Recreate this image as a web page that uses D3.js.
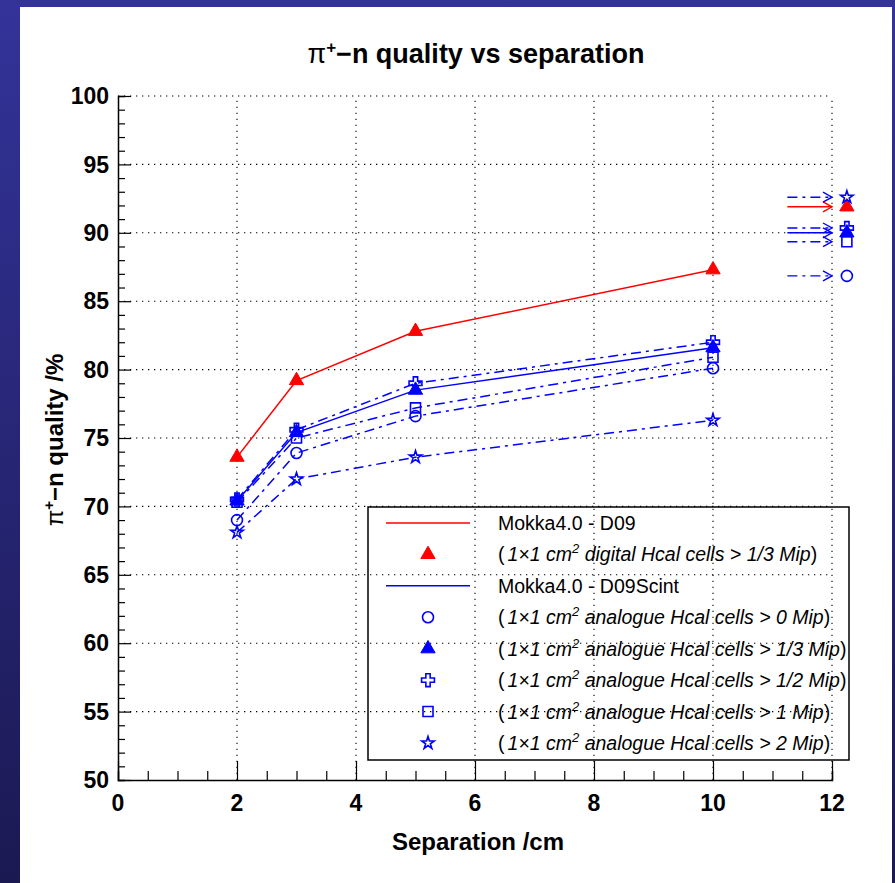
<!DOCTYPE html>
<html>
<head>
<meta charset="utf-8">
<script src="https://cdn.jsdelivr.net/npm/d3@7"></script>
<style>
  body { margin: 0; padding: 0; overflow: hidden; }
  text { font-family: "Liberation Sans", Arial, sans-serif; }
</style>
</head>
<body>
<script>
// separations in cm and quality in %
const separation = [2, 3, 5, 10];
const digital13 = [73.6, 79.2, 82.8, 87.3];
const analogue0 = [69.0, 73.9, 76.6, 80.1];
const analogue13 = [70.4, 75.4, 78.5, 81.6];
const analogue12 = [70.5, 75.6, 79.0, 82.0];
const analogue1 = [70.3, 75.0, 77.2, 80.9];
const analogue2 = [68.1, 72.0, 73.6, 76.3];
// values at "infinite" separation, drawn off the right edge
const limitValues = [91.9, 86.85, 90.0, 90.35, 89.35, 92.6];

const xTicks = [0, 2, 4, 6, 8, 10, 12];
const yTicks = [50, 55, 60, 65, 70, 75, 80, 85, 90, 95, 100];
const thresholds = ["1/3", "0", "1/3", "1/2", "1", "2"];

document.addEventListener("DOMContentLoaded", function() {
    const width = 895;
    const height = 883;

    const svg = d3.select("body").append("svg")
        .attr("width", width)
        .attr("height", height);

    const defs = svg.append("defs");
    const grad = defs.append("linearGradient")
        .attr("id", "frame-bg")
        .attr("x1", 0).attr("y1", 0).attr("x2", 0).attr("y2", 1);
    grad.append("stop").attr("offset", "0%").attr("stop-color", "#33339a");
    grad.append("stop").attr("offset", "100%").attr("stop-color", "#1b1952");

    svg.append("rect").attr("width", width).attr("height", height).attr("fill", "url(#frame-bg)");
    svg.append("rect").attr("x", 20).attr("y", 7).attr("width", 872).attr("height", 876).attr("fill", "#fff");

    const x = d3.scaleLinear().domain([0, 12]).range([118, 832]);
    const y = d3.scaleLinear().domain([50, 100]).range([780, 96]);

    // dotted grid
    const grid = svg.append("g").attr("stroke", "#000").attr("stroke-width", 1.1).attr("stroke-dasharray", "1.3,4.7");
    grid.selectAll(".gx").data(xTicks.filter(d => d > 0)).join("line")
        .attr("x1", d => x(d)).attr("x2", d => x(d))
        .attr("y1", y(50)).attr("y2", y(100));
    grid.selectAll(".gy").data(yTicks.filter(d => d > 50)).join("line")
        .attr("x1", x(0)).attr("x2", x(12))
        .attr("y1", d => y(d)).attr("y2", d => y(d));

    // axes with ticks pointing inwards
    const xAxis = svg.append("g").attr("transform", `translate(0,${y(50)})`)
        .call(d3.axisBottom(x).tickValues(d3.range(0, 12.01, 0.5)).tickSize(-9).tickFormat(""));
    xAxis.selectAll(".tick line").filter(d => d % 2 === 0).attr("y2", -19);
    xAxis.select(".domain").attr("stroke-width", 1.5);
    xAxis.selectAll(".tick line").attr("stroke-width", 1.2);

    const yAxis = svg.append("g").attr("transform", `translate(${x(0)},0)`)
        .call(d3.axisLeft(y).tickValues(d3.range(50, 100.01, 1)).tickSize(-7).tickFormat(""));
    yAxis.selectAll(".tick line").filter(d => d % 5 === 0).attr("x2", 13);
    yAxis.select(".domain").attr("stroke-width", 1.5);
    yAxis.selectAll(".tick line").attr("stroke-width", 1.2);

    svg.append("g").selectAll("text").data(xTicks).join("text")
        .attr("x", d => x(d)).attr("y", 811)
        .attr("text-anchor", "middle")
        .attr("font-size", 23).attr("font-weight", "bold")
        .text(d => d);

    svg.append("g").selectAll("text").data(yTicks).join("text")
        .attr("x", 109).attr("y", d => y(d)).attr("dy", "0.36em")
        .attr("text-anchor", "end")
        .attr("font-size", 23).attr("font-weight", "bold")
        .text(d => d);

    // titles
    const title = svg.append("text").attr("x", 476).attr("y", 63)
        .attr("text-anchor", "middle").attr("font-size", 27).attr("font-weight", "bold");
    title.append("tspan").attr("font-weight", "normal").text("π");
    title.append("tspan").attr("font-size", 17).attr("dy", -10).text("+");
    title.append("tspan").attr("dy", 10).text("−n quality vs separation");

    svg.append("text").attr("x", 478).attr("y", 850)
        .attr("text-anchor", "middle").attr("font-size", 24).attr("font-weight", "bold")
        .text("Separation /cm");

    const ytitle = svg.append("text")
        .attr("transform", "translate(63,440) rotate(-90)")
        .attr("text-anchor", "middle").attr("font-size", 24).attr("font-weight", "bold");
    ytitle.append("tspan").attr("font-weight", "normal").text("π");
    ytitle.append("tspan").attr("font-size", 15).attr("dy", -9).text("+");
    ytitle.append("tspan").attr("dy", 9).text("−n quality /%");

    const red = "#ff0000";
    const blue = "#0000ff";
    const dashDot = "10,5,3,5";

    const series = [
        {values: digital13, color: red, dash: null, marker: "triangle"},
        {values: analogue0, color: blue, dash: dashDot, marker: "circle"},
        {values: analogue13, color: blue, dash: null, marker: "triangle"},
        {values: analogue12, color: blue, dash: dashDot, marker: "cross"},
        {values: analogue1, color: blue, dash: dashDot, marker: "square"},
        {values: analogue2, color: blue, dash: dashDot, marker: "star"}
    ];

    const symbolFor = {
        triangle: d3.symbol(d3.symbolTriangle, 88),
        circle: d3.symbol(d3.symbolCircle, 95),
        cross: d3.symbol(d3.symbolCross, 92),
        square: d3.symbol(d3.symbolSquare, 100),
        star: d3.symbol(d3.symbolStar, 48)
    };

    const drawMarker = (g, s, cx, cy) => {
        const filled = s.marker === "triangle";
        g.append("path")
            .attr("d", symbolFor[s.marker]())
            .attr("transform", `translate(${cx},${cy})`)
            .attr("fill", filled ? s.color : "none")
            .attr("stroke", s.color)
            .attr("stroke-width", filled ? 1 : 1.6);
    };

    const line = d3.line().x(d => x(d[0])).y(d => y(d[1]));

    series.forEach(s => {
        const pts = separation.map((sep, i) => [sep, s.values[i]]);
        svg.append("path")
            .attr("d", line(pts))
            .attr("fill", "none")
            .attr("stroke", s.color)
            .attr("stroke-width", 1.5)
            .attr("stroke-dasharray", s.dash);
    });

    // arrows to limit values
    series.forEach((s, i) => {
        const v = limitValues[i];
        const g = svg.append("g").attr("stroke", s.color).attr("stroke-width", 1.4).attr("fill", "none");
        g.append("line")
            .attr("x1", x(11.25)).attr("x2", x(12))
            .attr("y1", y(v)).attr("y2", y(v))
            .attr("stroke-dasharray", s.dash);
        g.append("path")
            .attr("d", `M${x(12) - 9},${y(v) - 5}L${x(12)},${y(v)}L${x(12) - 9},${y(v) + 5}`);
    });

    series.forEach(s => {
        const g = svg.append("g");
        separation.forEach((sep, i) => drawMarker(g, s, x(sep), y(s.values[i])));
    });
    series.forEach((s, i) => drawMarker(svg, s, x(12.25), y(limitValues[i])));

    // legend
    const legend = svg.append("g");
    legend.append("rect")
        .attr("x", 368).attr("y", 507).attr("width", 481).attr("height", 253)
        .attr("fill", "none").attr("stroke", "#000").attr("stroke-width", 1.5);

    const rowY = d3.scalePoint().domain(d3.range(8)).range([523, 743]);
    const textX = 498;

    const addLineEntry = (row, color, label) => {
        legend.append("line")
            .attr("x1", 386).attr("x2", 470)
            .attr("y1", rowY(row)).attr("y2", rowY(row))
            .attr("stroke", color).attr("stroke-width", 1.5);
        legend.append("text").attr("x", textX).attr("y", rowY(row)).attr("dy", "0.36em")
            .attr("font-size", 19.5).text(label);
    };

    const addMarkerEntry = (row, s, kind, thr) => {
        drawMarker(legend, s, 428, rowY(row));
        const t = legend.append("text").attr("x", textX).attr("y", rowY(row)).attr("dy", "0.36em")
            .attr("font-size", 19.5);
        t.append("tspan").text("(");
        t.append("tspan").attr("font-style", "italic").attr("dx", 3).text("1×1 cm");
        t.append("tspan").attr("font-style", "italic").attr("font-size", 13).attr("dy", -8).text("2");
        t.append("tspan").attr("font-style", "italic").attr("dy", 8)
            .text(` ${kind} Hcal cells > ${thr} Mip`);
        t.append("tspan").text(")");
    };

    addLineEntry(0, red, "Mokka4.0 - D09");
    addMarkerEntry(1, series[0], "digital", thresholds[0]);
    addLineEntry(2, blue, "Mokka4.0 - D09Scint");
    series.slice(1).forEach((s, i) => addMarkerEntry(3 + i, s, "analogue", thresholds[i + 1]));
});
</script>
</body>
</html>
